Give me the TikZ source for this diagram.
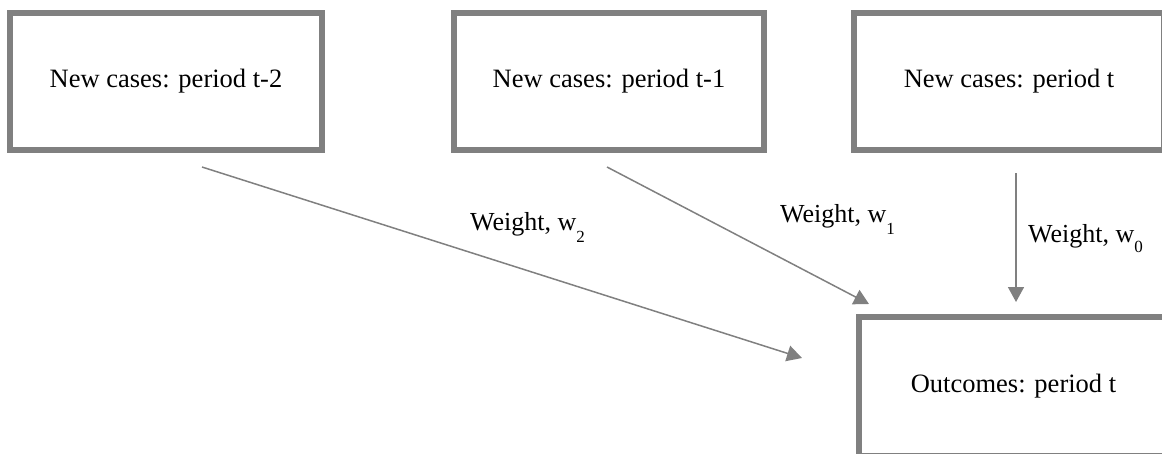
\documentclass[tikz,border=0pt]{standalone}
\usepackage{fontspec}
\setmainfont{Liberation Serif}
\usetikzlibrary{arrows.meta}
\definecolor{boxgray}{RGB}{128,128,128}
\tikzset{
  stage/.style={draw=boxgray, line width=6pt, fill=white, inner sep=0pt,
    font=\fontsize{26.5}{30}\selectfont},
  link/.style={draw=boxgray, line width=1.5pt, -{Triangle[length=15pt,width=16pt]}},
  wlabel/.style={anchor=base west, inner sep=0pt, font=\fontsize{26}{30}\selectfont}
}
\newcommand{\wsub}[2]{w\raisebox{-#2pt}{\fontsize{17}{17}\selectfont #1}}
\begin{document}
\begin{tikzpicture}[x=1pt,y=-1pt]
\useasboundingbox (0,0) rectangle (1162,453);
\clip (0,0) rectangle (1162,453);
\node[stage, minimum width=312pt, minimum height=137pt] (n2) at (166,81.5) {New cases: period t-2};
\node[stage, minimum width=310pt, minimum height=137pt] (n1) at (609,81.5) {New cases: period t-1};
\node[stage, minimum width=310pt, minimum height=137pt] (n0) at (1009,81.5) {New cases: period t};
\node[stage, minimum width=309pt, minimum height=138.5pt] (out) at (1013.5,386.5) {Outcomes: period t};
\coordinate (s2) at (202,167);
\coordinate (e2) at (802,358);
\coordinate (s1) at (607,167);
\coordinate (e1) at (869,304);
\coordinate (s0) at (1016,173);
\coordinate (e0) at (1016,302);
\draw[link] (s2) -- (e2);
\draw[link] (s1) -- (e1);
\draw[link] (s0) -- (e0);
\node[wlabel] (l2) at (470,230) {Weight, \wsub{2}{12}};
\node[wlabel] (l1) at (780,222) {Weight, \wsub{1}{12}};
\node[wlabel] (l0) at (1028,242) {Weight, \wsub{0}{10}};
\end{tikzpicture}
\end{document}
